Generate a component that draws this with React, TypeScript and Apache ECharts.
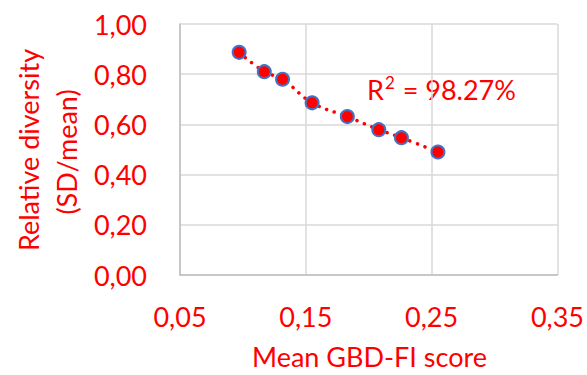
import React, { useEffect, useRef } from "react";
import * as echarts from "echarts";

const meanScore = [0.097, 0.117, 0.1315, 0.155, 0.183, 0.208, 0.226, 0.255];
const relDiversity = [0.887, 0.81, 0.78, 0.686, 0.631, 0.579, 0.547, 0.49];
const xTicks = { min: 0.05, max: 0.35, interval: 0.1 };
const yTicks = { min: 0, max: 1, interval: 0.2 };
const r2Label = "R{sup|2} = 98.27%";
const xName = "Mean GBD-FI score";
const yName1 = "Relative diversity";
const yName2 = "(SD/mean)";

const RED = "#FF0000";
const FONT = "Lato, 'Noto Sans', sans-serif";

export default function App() {
  const ref = useRef<HTMLDivElement>(null);
  useEffect(() => {
    if (!ref.current) return;
    document.body.style.margin = "0";
    const chart = echarts.init(ref.current, undefined, { renderer: "svg" });
    const pts = meanScore.map((x, i) => [x, relDiversity[i]]);
    const fmt = (v: number, d: number) => v.toFixed(d).replace(".", ",");
    chart.setOption({
      animation: false,
      backgroundColor: "#fff",
      grid: { left: 180, right: 28, top: 24, bottom: 100 },
      xAxis: {
        type: "value",
        min: xTicks.min,
        max: xTicks.max,
        interval: xTicks.interval,
        axisLine: { show: true, lineStyle: { color: "#BFBFBF", width: 1.5 } },
        axisTick: { show: false },
        splitLine: { show: true, lineStyle: { color: "#D9D9D9", width: 1.5 } },
        axisLabel: {
          color: RED,
          fontFamily: FONT,
          fontSize: 27,
          margin: 28,
          formatter: (v: number) => fmt(v, 2),
        },
      },
      yAxis: {
        type: "value",
        min: yTicks.min,
        max: yTicks.max,
        interval: yTicks.interval,
        axisLine: { show: true, lineStyle: { color: "#BFBFBF", width: 1.5 } },
        axisTick: { show: false },
        splitLine: { show: true, lineStyle: { color: "#D9D9D9", width: 1.5 } },
        axisLabel: {
          color: RED,
          fontFamily: FONT,
          fontSize: 27,
          margin: 33,
          formatter: (v: number) => fmt(v, 2),
        },
      },
      graphic: [
        {
          type: "text",
          x: 369.5,
          y: 356,
          style: {
            text: xName,
            fill: RED,
            font: `27px ${FONT}`,
            textAlign: "center",
            textVerticalAlign: "middle",
          },
        },
        {
          type: "text",
          x: 28,
          y: 150,
          rotation: Math.PI / 2,
          style: {
            text: yName1,
            fill: RED,
            font: `27px ${FONT}`,
            textAlign: "center",
            textVerticalAlign: "middle",
          },
        },
        {
          type: "text",
          x: 66,
          y: 152,
          rotation: Math.PI / 2,
          style: {
            text: yName2,
            fill: RED,
            font: `27px ${FONT}`,
            textAlign: "center",
            textVerticalAlign: "middle",
          },
        },
        {
          type: "text",
          x: 367,
          y: 89,
          style: {
            text: r2Label,
            fill: RED,
            fontFamily: "Lato",
            fontSize: 27,
            align: "left",
            verticalAlign: "middle",
            rich: {
              sup: { fontFamily: "Lato", fontSize: 17, fill: RED, padding: [0, 1, 14, 1] },
            },
          },
        },
      ],
      series: [
        {
          type: "line",
          data: pts,
          smooth: 0.4,
          showSymbol: false,
          symbol: "none",
          lineStyle: { color: RED, width: 3.5, type: [0.1, 8], cap: "round" },
          z: 2,
        },
        {
          type: "scatter",
          data: pts,
          symbolSize: 13,
          itemStyle: { color: RED, borderColor: "#4472C4", borderWidth: 2, opacity: 1 },
          z: 3,
        },
      ],
    });
    return () => chart.dispose();
  }, []);
  return (
    <div
      ref={ref}
      style={{ position: "absolute", left: 0, top: 0, width: 587, height: 375 }}
    />
  );
}
